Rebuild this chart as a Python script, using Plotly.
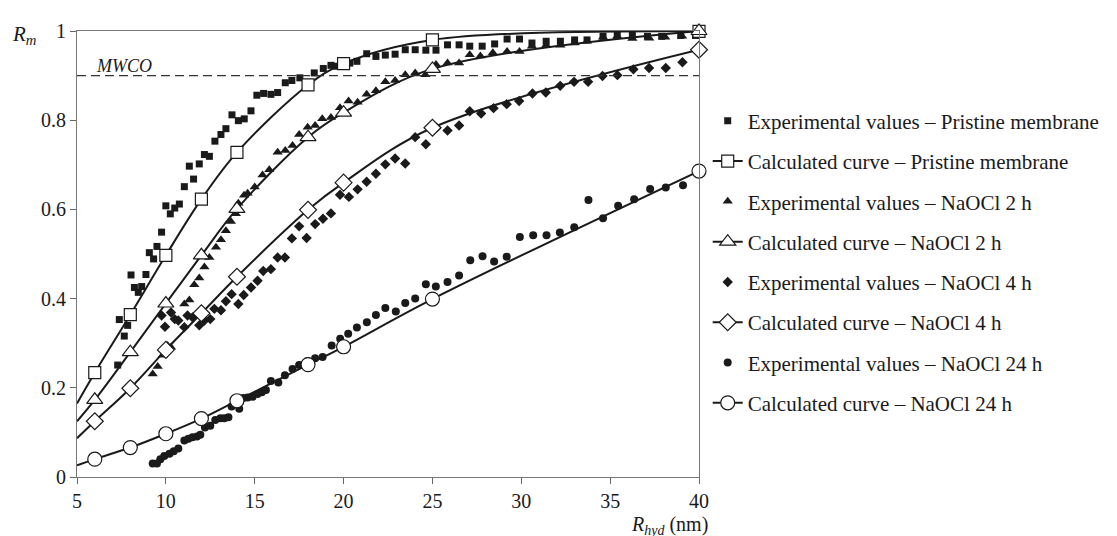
import plotly.graph_objects as go

# ---------------- data ----------------
pristine_exp_x = [7.29, 7.38, 7.66, 7.85, 8.04, 8.23, 8.45, 8.64, 8.88, 9.07, 9.31, 9.5, 9.76, 10.0, 10.25, 10.5,
                  10.76, 11.04, 11.32, 11.56, 11.88, 12.17, 12.45, 12.76, 13.1, 13.38, 13.72, 14.08, 14.41, 14.79,
                  15.12, 15.5, 15.91, 16.29, 16.72, 17.09, 17.54, 18.35, 18.86, 19.29, 19.6, 20.35, 20.75, 21.3,
                  21.82, 22.35, 22.9, 23.47, 24.03, 24.63, 25.2, 25.85, 26.5, 27.1, 27.8, 28.5, 29.2, 29.9, 30.6,
                  31.4, 32.2, 33.0, 33.7, 34.6, 35.4, 36.25, 37.1, 37.9, 38.97, 39.8]
pristine_exp_y = [0.251, 0.353, 0.316, 0.34, 0.453, 0.425, 0.414, 0.427, 0.454, 0.503, 0.489, 0.517, 0.549, 0.608,
                  0.59, 0.603, 0.612, 0.651, 0.697, 0.668, 0.702, 0.723, 0.719, 0.753, 0.768, 0.781, 0.812, 0.799,
                  0.803, 0.821, 0.856, 0.86, 0.858, 0.862, 0.884, 0.889, 0.895, 0.906, 0.916, 0.923, 0.921, 0.928,
                  0.932, 0.949, 0.943, 0.946, 0.948, 0.958, 0.958, 0.957, 0.957, 0.969, 0.969, 0.966, 0.966, 0.971,
                  0.982, 0.982, 0.973, 0.977, 0.977, 0.98, 0.98, 0.988, 0.99, 0.99, 0.988, 0.988, 0.99, 0.99]

h2_exp_x = [9.26, 9.54, 9.82, 10.1, 10.29, 11.04, 11.32, 11.6, 11.88, 12.17, 12.45, 12.82, 13.1, 13.38, 13.66,
            13.94, 14.08, 14.4, 14.6, 15.0, 15.44, 15.82, 16.29, 16.72, 17.13, 17.5, 17.98, 18.4, 18.8, 19.29,
            19.8, 20.28, 20.79, 21.3, 21.82, 22.35, 22.9, 23.47, 24.03, 24.6, 25.2, 25.85, 26.5, 27.1, 27.7,
            28.4, 29.2, 29.9, 30.6, 31.4, 32.2, 33.0, 33.7, 34.6, 35.4, 36.25, 37.2, 38.1, 39.05]
h2_exp_y = [0.231, 0.248, 0.273, 0.295, 0.291, 0.388, 0.397, 0.431, 0.446, 0.471, 0.492, 0.515, 0.532, 0.552, 0.573,
            0.59, 0.614, 0.632, 0.636, 0.65, 0.677, 0.689, 0.728, 0.732, 0.743, 0.768, 0.784, 0.788, 0.803, 0.806,
            0.828, 0.843, 0.84, 0.858, 0.866, 0.886, 0.889, 0.902, 0.906, 0.902, 0.925, 0.928, 0.928, 0.947, 0.944,
            0.951, 0.954, 0.954, 0.966, 0.968, 0.968, 0.973, 0.977, 0.986, 0.988, 0.983, 0.984, 0.986, 0.988]

h4_exp_x = [9.76, 9.95, 10.29, 10.5, 10.7, 11.04, 11.22, 11.5, 11.88, 12.17, 12.5, 12.73, 13.1, 13.38, 13.7, 14.08,
            14.38, 14.79, 15.16, 15.48, 15.91, 16.29, 16.7, 17.09, 17.5, 17.92, 18.4, 18.84, 19.29, 19.8, 20.3,
            20.79, 21.3, 21.82, 22.35, 22.9, 23.47, 24.03, 24.63, 25.23, 25.85, 26.5, 27.1, 27.74, 28.44, 29.18,
            29.88, 30.63, 31.38, 32.19, 32.97, 33.76, 34.57, 35.41, 36.31, 37.19, 38.13, 39.07]
h4_exp_y = [0.362, 0.337, 0.369, 0.354, 0.351, 0.336, 0.362, 0.358, 0.34, 0.351, 0.354, 0.377, 0.374, 0.394, 0.41,
            0.388, 0.408, 0.425, 0.44, 0.462, 0.466, 0.492, 0.492, 0.535, 0.562, 0.536, 0.567, 0.579, 0.591, 0.633,
            0.628, 0.645, 0.662, 0.68, 0.701, 0.714, 0.703, 0.762, 0.746, 0.783, 0.777, 0.788, 0.82, 0.815, 0.827,
            0.836, 0.843, 0.86, 0.862, 0.877, 0.886, 0.886, 0.899, 0.901, 0.914, 0.917, 0.917, 0.93]

h24_exp_x = [9.26, 9.5, 9.69, 9.91, 10.2, 10.44, 10.7, 11.04, 11.27, 11.5, 11.75, 11.94, 12.2, 12.5, 12.78, 13.07,
             13.29, 13.52, 13.7, 14.13, 14.36, 14.6, 14.88, 15.16, 15.4, 15.63, 15.91, 16.33, 16.7, 17.13, 17.5,
             17.98, 18.4, 18.82, 19.33, 19.81, 20.26, 20.75, 21.31, 21.82, 22.35, 22.94, 23.47, 24.03, 24.63,
             25.19, 25.85, 26.5, 27.13, 27.82, 28.47, 29.18, 29.92, 30.67, 31.42, 32.17, 32.98, 33.78, 34.6,
             35.45, 36.35, 37.25, 38.13, 39.1]
h24_exp_y = [0.03, 0.03, 0.04, 0.047, 0.052, 0.058, 0.064, 0.082, 0.086, 0.089, 0.091, 0.095, 0.111, 0.115, 0.128,
             0.132, 0.132, 0.134, 0.158, 0.153, 0.177, 0.178, 0.18, 0.186, 0.19, 0.195, 0.215, 0.212, 0.228, 0.242,
             0.251, 0.26, 0.266, 0.269, 0.295, 0.31, 0.321, 0.335, 0.347, 0.363, 0.379, 0.371, 0.39, 0.4, 0.432,
             0.427, 0.437, 0.452, 0.486, 0.495, 0.483, 0.494, 0.538, 0.542, 0.542, 0.548, 0.56, 0.621, 0.58,
             0.608, 0.623, 0.646, 0.649, 0.654]

# calculated curves (first point, x=5, is the curve start without a marker)
calc_x = [5, 6, 8, 10, 12, 14, 18, 20, 25, 40]
pristine_calc = [0.165, 0.234, 0.364, 0.497, 0.623, 0.728, 0.879, 0.927, 0.98, 0.999]
h2_calc = [0.125, 0.173, 0.28, 0.389, 0.497, 0.601, 0.762, 0.817, 0.915, 1.0]
h4_calc = [0.087, 0.125, 0.199, 0.285, 0.367, 0.449, 0.599, 0.66, 0.783, 0.958]
h24_calc = [0.026, 0.04, 0.066, 0.097, 0.131, 0.171, 0.252, 0.292, 0.399, 0.686]

mwco = 0.9
x_ticks = [5, 10, 15, 20, 25, 30, 35, 40]
y_ticks = [0, 0.2, 0.4, 0.6, 0.8, 1]
y_tick_text = ["0", "0.2", "0.4", "0.6", "0.8", "1"]

series = [
    ("Pristine membrane", pristine_exp_x, pristine_exp_y, pristine_calc, "square", 7, 12),
    ("NaOCl 2 h", h2_exp_x, h2_exp_y, h2_calc, "triangle-up", 9, 14),
    ("NaOCl 4 h", h4_exp_x, h4_exp_y, h4_calc, "diamond", 8, 13),
    ("NaOCl 24 h", h24_exp_x, h24_exp_y, h24_calc, "circle", 8, 14),
]

INK = "#1a1a1a"
FONT = "'Liberation Serif', 'DejaVu Serif', serif"

fig = go.Figure()

# experimental points
for name, ex, ey, cy, sym, ss, cs in series:
    fig.add_trace(go.Scatter(x=ex, y=ey, mode="markers", showlegend=False, cliponaxis=False,
                             marker=dict(symbol=sym, size=ss, color=INK, line=dict(width=0))))

# calculated curves
for name, ex, ey, cy, sym, ss, cs in series:
    fig.add_trace(go.Scatter(x=calc_x, y=cy, mode="lines", showlegend=False, cliponaxis=False,
                             line=dict(color=INK, width=2, shape="spline", smoothing=1)))
    fig.add_trace(go.Scatter(x=calc_x[1:], y=cy[1:], mode="markers", showlegend=False, cliponaxis=False,
                             marker=dict(symbol=sym, size=cs, color="white",
                                         line=dict(color=INK, width=1.2))))

# legend entries
for i, (name, ex, ey, cy, sym, ss, cs) in enumerate(series):
    fig.add_trace(go.Scatter(x=[None], y=[None], mode="markers", name="Experimental values – " + name,
                             legendgroup="e%d" % i,
                             marker=dict(symbol=sym, size=ss, color=INK, line=dict(width=0))))
    fig.add_trace(go.Scatter(x=[None], y=[None], mode="lines+markers", name="Calculated curve – " + name,
                             legendgroup="c%d" % i,
                             line=dict(color=INK, width=2),
                             marker=dict(symbol=sym, size=cs, color="white", line=dict(color=INK, width=1.2))))

fig.add_shape(type="line", xref="paper", x0=0, x1=1, yref="y", y0=mwco, y1=mwco,
              line=dict(color="#333333", width=1.3, dash="9px,5px"))

fig.add_annotation(text="<i>MWCO</i>", xref="paper", x=0.028, yref="y", y=mwco, xanchor="left",
                   yanchor="bottom", showarrow=False, font=dict(family=FONT, size=18, color=INK), yshift=-2)
fig.add_annotation(text="<i>R</i><sub><i>m</i></sub>", xref="paper", x=-0.108, yref="paper", y=0.99,
                   xanchor="left", yanchor="middle", showarrow=False, font=dict(family=FONT, size=21, color=INK))
fig.add_annotation(text="<i>R</i><sub><i>hyd</i></sub> (nm)", xref="paper", x=1.016, yref="paper", y=-0.140,
                   xanchor="right", yanchor="bottom", showarrow=False, borderpad=0,
                   font=dict(family=FONT, size=20, color=INK))

fig.update_xaxes(range=[5, 40], tickvals=x_ticks, ticks="outside", ticklen=6, tickcolor="#666666",
                 showline=True, linecolor="#777777", linewidth=1, mirror=True, showgrid=False, zeroline=False,
                 tickfont=dict(family=FONT, size=20, color=INK))
fig.update_yaxes(range=[0, 1], tickvals=y_ticks, ticktext=y_tick_text, ticks="outside", ticklen=6,
                 tickcolor="#666666", showline=True, linecolor="#777777", linewidth=1, mirror=True,
                 showgrid=False, zeroline=False, tickfont=dict(family=FONT, size=20, color=INK))

fig.update_layout(
    width=1117, height=536,
    margin=dict(l=69, r=426, t=19, b=67),
    paper_bgcolor="white", plot_bgcolor="white",
    font=dict(family=FONT, color=INK),
    legend=dict(x=1.014, xanchor="left", y=0.844, yanchor="top", traceorder="grouped", tracegroupgap=10,
                font=dict(family=FONT, size=21, color=INK), bgcolor="rgba(0,0,0,0)", itemwidth=30),
)

fig.write_html("out.html")
